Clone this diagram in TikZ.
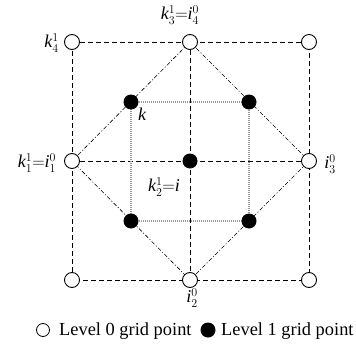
\documentclass[tikz,border=0pt]{standalone}
\usepackage{fontspec}
\setmainfont{Liberation Serif}
\DeclareMathSizes{18}{18}{13}{10}
\begin{document}
\begin{tikzpicture}[x=1pt,y=-1pt,
  opt/.style={circle,draw=black,fill=white,line width=0.9pt,minimum size=15pt,inner sep=0pt},
  fpt/.style={circle,fill=black,minimum size=15pt,inner sep=0pt},
  gridline/.style={line width=0.8pt,dash pattern=on 5pt off 3pt},
  diagline/.style={line width=0.6pt,dash pattern=on 4pt off 2pt on 1pt off 2pt},
  innerline/.style={line width=1.2pt,gray!80,dash pattern=on 1pt off 1pt},
  lbl/.style={inner sep=0pt,font=\fontsize{18}{21}\selectfont}]
\useasboundingbox (0,0) rectangle (356,348);
% coordinates of points
\coordinate (A) at (72,42);
\coordinate (B) at (190,42);
\coordinate (C) at (309,42);
\coordinate (D) at (72,161);
\coordinate (E) at (309,161);
\coordinate (F) at (72,280);
\coordinate (G) at (190,280);
\coordinate (H) at (309,280);
\coordinate (P1) at (131,102);
\coordinate (P2) at (249,102);
\coordinate (P3) at (131,221);
\coordinate (P4) at (249,221);
\coordinate (P0) at (190,161);
% lines
\draw[gridline] (A) -- (B) -- (C) -- (E) -- (H) -- (G) -- (F) -- (D) -- cycle;
\draw[gridline] (B) -- (G);
\draw[gridline] (D) -- (E);
\draw[diagline] (B) -- (E) -- (G) -- (D) -- cycle;
\draw[innerline] (P1) -- (P2) -- (P4) -- (P3) -- cycle;
% points
\foreach \p in {A,B,C,D,E,F,G,H} \node[opt] (n\p) at (\p) {};
\foreach \p in {P0,P1,P2,P3,P4} \node[fpt] (n\p) at (\p) {};
% labels
\node[lbl,anchor=east] (l1) at (59,43) {$\mathit{k}_4^1$};
\node[lbl] (l2) at (180,15) {$\mathit{k}_3^1{=}\mathit{i}_4^0$};
\node[lbl] (l3) at (142,114) {$\mathit{k}$};
\node[lbl] (l4) at (37,163) {$\mathit{k}_1^1{=}\mathit{i}_1^0$};
\node[lbl] (l5) at (330,164) {$\mathit{i}_3^0$};
\node[lbl] (l6) at (164,187) {$\mathit{k}_2^1{=}\mathit{i}$};
\node[lbl] (l7) at (192,298) {$\mathit{i}_2^0$};
% legend
\node[circle,draw=black,line width=0.8pt,minimum size=13pt,inner sep=0pt] (lg0) at (43,330) {};
\node[lbl,anchor=west,font=\fontsize{18.4}{21}\selectfont] (lt0) at (59,331) {Level 0 grid point};
\node[circle,fill=black,minimum size=15pt,inner sep=0pt] (lg1) at (208,330) {};
\node[lbl,anchor=west,font=\fontsize{18.4}{21}\selectfont] (lt1) at (221,331) {Level 1 grid point};
\end{tikzpicture}
\end{document}
